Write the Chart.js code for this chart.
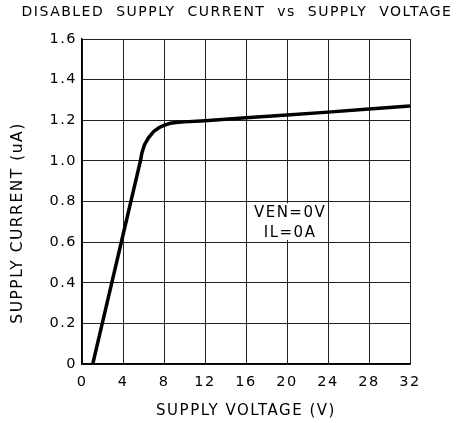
<!DOCTYPE html>
<html>
<head>
<meta charset="utf-8">
<script src="https://cdn.jsdelivr.net/npm/chart.js@4/dist/chart.umd.min.js"></script>
<style>
  html, body { margin: 0; padding: 0; background: #fff; }
  #wrap { width: 458px; height: 423px; }
</style>
</head>
<body>
<div id="wrap"><canvas id="chart"></canvas></div>
<script>
// values
const voltage = [1.05, 2, 3, 4, 5, 5.7, 5.85, 6.1, 6.5, 7, 7.5, 8, 8.6, 9.4, 10, 12, 16, 20, 24, 28, 32];
const current = [0, 0.205, 0.42, 0.635, 0.85, 1.0, 1.04, 1.08, 1.115, 1.145, 1.163, 1.175, 1.185, 1.19, 1.192, 1.198, 1.212, 1.226, 1.24, 1.255, 1.27];
const xTicks = [0, 4, 8, 12, 16, 20, 24, 28, 32];
const yTicks = [0, 0.2, 0.4, 0.6, 0.8, 1.0, 1.2, 1.4, 1.6];
const titleText = 'DISABLED  SUPPLY  CURRENT  vs  SUPPLY  VOLTAGE';
const yTitleText = 'SUPPLY CURRENT (uA)';
const noteLines = ['VEN=0V', 'IL=0A'];
const notePos = { x: 20.3, y: [0.742, 0.645] };

const FONT = 'DejaVu Sans, sans-serif';

// wider letters, like the plotter lettering of the original
const spacing = {
    id: 'spacing',
    beforeUpdate(chart) { chart.ctx.letterSpacing = '1.5px'; },
    beforeDraw(chart) { chart.ctx.letterSpacing = '1.5px'; }
};

// title and y-axis title are not centred on the plot in the original
const labels = {
    id: 'labels',
    afterDraw(chart) {
        const ctx = chart.ctx;
        ctx.save();
        ctx.fillStyle = '#000';
        ctx.textAlign = 'center';
        ctx.textBaseline = 'middle';
        ctx.font = '14px ' + FONT;
        ctx.fillText(titleText, 237, 12);
        ctx.translate(18, 223);
        ctx.rotate(-Math.PI / 2);
        ctx.font = '15.5px ' + FONT;
        ctx.fillText(yTitleText, 0, 0);
        ctx.restore();
    }
};

// note text sits on a white patch that hides the grid behind it
const note = {
    id: 'note',
    afterDatasetsDraw(chart) {
        const ctx = chart.ctx;
        const xs = chart.scales.x, ys = chart.scales.y;
        ctx.save();
        ctx.font = '15px ' + FONT;
        const cx = xs.getPixelForValue(notePos.x);
        const top = ys.getPixelForValue(notePos.y[0]) - 10;
        const bottom = ys.getPixelForValue(notePos.y[1]) + 7;
        const w = Math.max(...noteLines.map(t => ctx.measureText(t).width));
        ctx.fillStyle = '#fff';
        ctx.fillRect(cx - w / 2 - 1, top, w + 2, bottom - top);
        ctx.fillStyle = '#000';
        ctx.textAlign = 'center';
        ctx.textBaseline = 'middle';
        noteLines.forEach((t, i) => {
            ctx.fillText(t, cx, ys.getPixelForValue(notePos.y[i]));
        });
        ctx.restore();
    }
};

new Chart(document.getElementById('chart'), {
    type: 'line',
    data: {
        datasets: [{
            data: voltage.map((v, i) => ({ x: v, y: current[i] })),
            borderColor: '#000',
            borderWidth: 3.5,
            pointRadius: 0,
            tension: 0,
            fill: false
        }]
    },
    options: {
        responsive: true,
        maintainAspectRatio: false,
        animation: false,
        layout: { padding: { left: 0, right: 48, top: 39, bottom: 0 } },
        plugins: {
            legend: { display: false },
            tooltip: { enabled: false },
            title: { display: false }
        },
        scales: {
            x: {
                type: 'linear',
                min: 0, max: 32,
                afterBuildTicks: s => { s.ticks = xTicks.map(v => ({ value: v })); },
                afterFit: s => { s.height = 59; },
                ticks: { color: '#000', font: { family: FONT, size: 14.5 }, padding: 10, maxRotation: 0 },
                grid: { color: '#222', lineWidth: 1, drawTicks: false },
                border: { color: '#000', width: 1.5 },
                title: {
                    display: true,
                    text: 'SUPPLY VOLTAGE (V)',
                    color: '#000',
                    font: { family: FONT, size: 15 },
                    padding: { top: 0, bottom: 3 }
                }
            },
            y: {
                type: 'linear',
                min: 0, max: 1.6,
                afterBuildTicks: s => { s.ticks = yTicks.map(v => ({ value: v })); },
                afterFit: s => { s.width = 82; },
                ticks: {
                    color: '#000', font: { family: FONT, size: 14.5 }, padding: 5,
                    callback: v => v === 0 ? '0' : v.toFixed(1)
                },
                grid: { color: '#222', lineWidth: 1, drawTicks: false },
                border: { color: '#000', width: 1.5 },
                title: { display: false }
            }
        }
    },
    plugins: [spacing, note, labels]
});
</script>
</body>
</html>
